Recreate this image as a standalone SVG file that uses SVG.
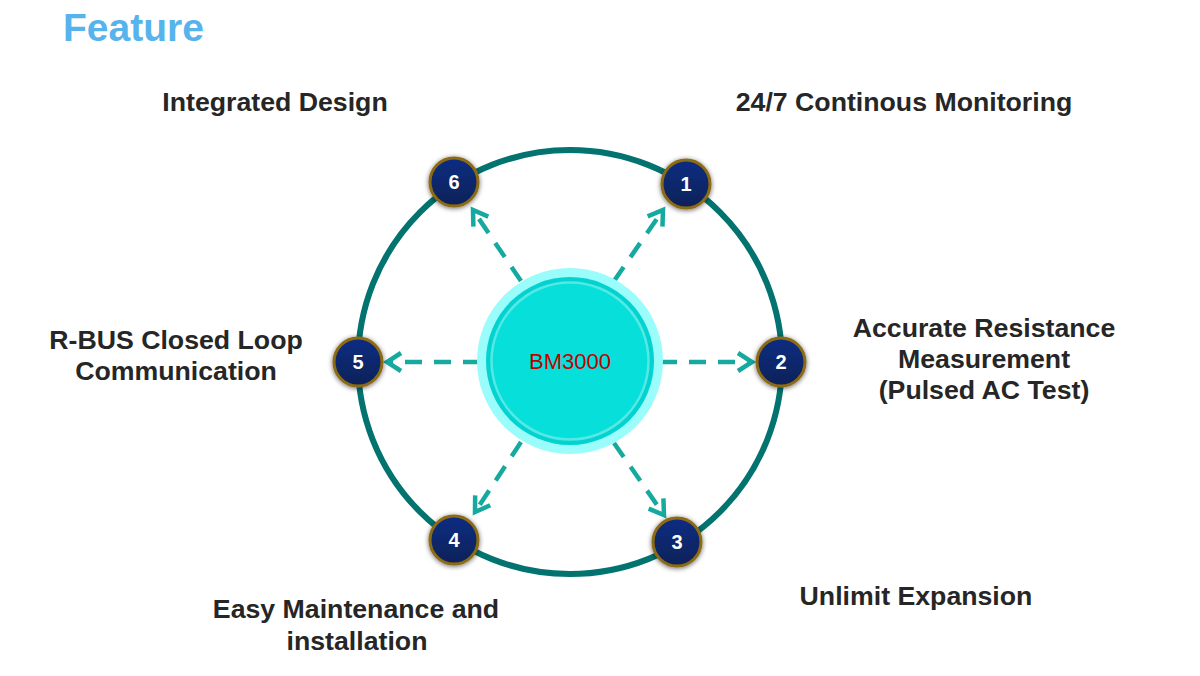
<svg xmlns="http://www.w3.org/2000/svg" width="1200" height="676" viewBox="0 0 1200 676">
<defs>
<style>
.lbl{font-family:"Liberation Sans",Arial,sans-serif;font-weight:bold;font-size:26.7px;fill:#262626;text-anchor:middle}
.num{font-family:"Liberation Sans",Arial,sans-serif;font-weight:bold;font-size:20px;fill:#ffffff;text-anchor:middle}
.node{fill:url(#ng);stroke:#8C6A12;stroke-width:3;filter:url(#sh)}
.arr{stroke:#16A99F;stroke-width:4.5;fill:none;stroke-dasharray:17 12;marker-end:url(#ah)}
</style>
<linearGradient id="ng" x1="0" y1="0" x2="0" y2="1">
<stop offset="0" stop-color="#0A2D82"/>
<stop offset="1" stop-color="#0C2258"/>
</linearGradient>
<filter id="sh" x="-50%" y="-50%" width="200%" height="200%">
<feGaussianBlur in="SourceAlpha" stdDeviation="2.5"/>
<feOffset dx="0" dy="1" result="b"/>
<feFlood flood-color="#000" flood-opacity="0.6"/>
<feComposite in2="b" operator="in"/>
<feMerge><feMergeNode/><feMergeNode in="SourceGraphic"/></feMerge>
</filter>
<marker id="ah" markerUnits="userSpaceOnUse" markerWidth="30" markerHeight="30" viewBox="-20 -15 30 30" refX="0" refY="0" orient="auto">
<path d="M-14,-9 L0,0 L-14,9" fill="none" stroke="#16A99F" stroke-width="4.5" stroke-linecap="butt" stroke-linejoin="miter"/>
</marker>
</defs>
<rect width="1200" height="676" fill="#ffffff"/>
<text x="63" y="41" style="font-family:'Liberation Sans',Arial,sans-serif;font-weight:bold;font-size:39px;fill:#56B3EC">Feature</text>
<g id="ring">
<circle cx="570" cy="362" r="212" fill="none" stroke="#02736F" stroke-width="6"/>
</g>
<g id="connectors">
<line class="arr" x1="660" y1="362" x2="752" y2="362"/>
<line class="arr" x1="480" y1="362" x2="387" y2="362"/>
<line class="arr" x1="614" y1="443" x2="664" y2="515"/>
<line class="arr" x1="614" y1="281" x2="663" y2="210"/>
<line class="arr" x1="521" y1="281" x2="473" y2="210"/>
<line class="arr" x1="521" y1="442" x2="475" y2="512"/>
</g>
<g id="center">
<circle cx="570" cy="361" r="93" fill="#9AFCFB"/>
<circle cx="570" cy="361" r="84" fill="#02D3D1"/>
<circle cx="570" cy="361" r="78.5" fill="#07E0DA" stroke="#55E8E5" stroke-width="2.5"/>
<text x="570" y="369" style="font-family:'Liberation Sans',Arial,sans-serif;font-size:22px;fill:#C00000;text-anchor:middle">BM3000</text>
</g>
<g id="node1"><circle class="node" cx="686" cy="184" r="24"/><text class="num" x="686" y="191">1</text></g>
<g id="node2"><circle class="node" cx="781" cy="362" r="24"/><text class="num" x="781" y="369">2</text></g>
<g id="node3"><circle class="node" cx="677" cy="542" r="24"/><text class="num" x="677" y="549">3</text></g>
<g id="node4"><circle class="node" cx="454" cy="540" r="24"/><text class="num" x="454" y="547">4</text></g>
<g id="node5"><circle class="node" cx="358" cy="362" r="24"/><text class="num" x="358" y="369">5</text></g>
<g id="node6"><circle class="node" cx="454" cy="182" r="24"/><text class="num" x="454" y="189">6</text></g>
<g id="labels">
<text class="lbl" x="275" y="111">Integrated Design</text>
<text class="lbl" x="904" y="111">24/7 Continous Monitoring</text>
<text class="lbl" x="984" y="337">Accurate Resistance</text>
<text class="lbl" x="984" y="368">Measurement</text>
<text class="lbl" x="984" y="399">(Pulsed AC Test)</text>
<text class="lbl" x="176" y="349">R-BUS Closed Loop</text>
<text class="lbl" x="176" y="380">Communication</text>
<text class="lbl" x="916" y="605">Unlimit Expansion</text>
<text class="lbl" x="356" y="618">Easy Maintenance and</text>
<text class="lbl" x="357" y="650">installation</text>
</g>
</svg>
